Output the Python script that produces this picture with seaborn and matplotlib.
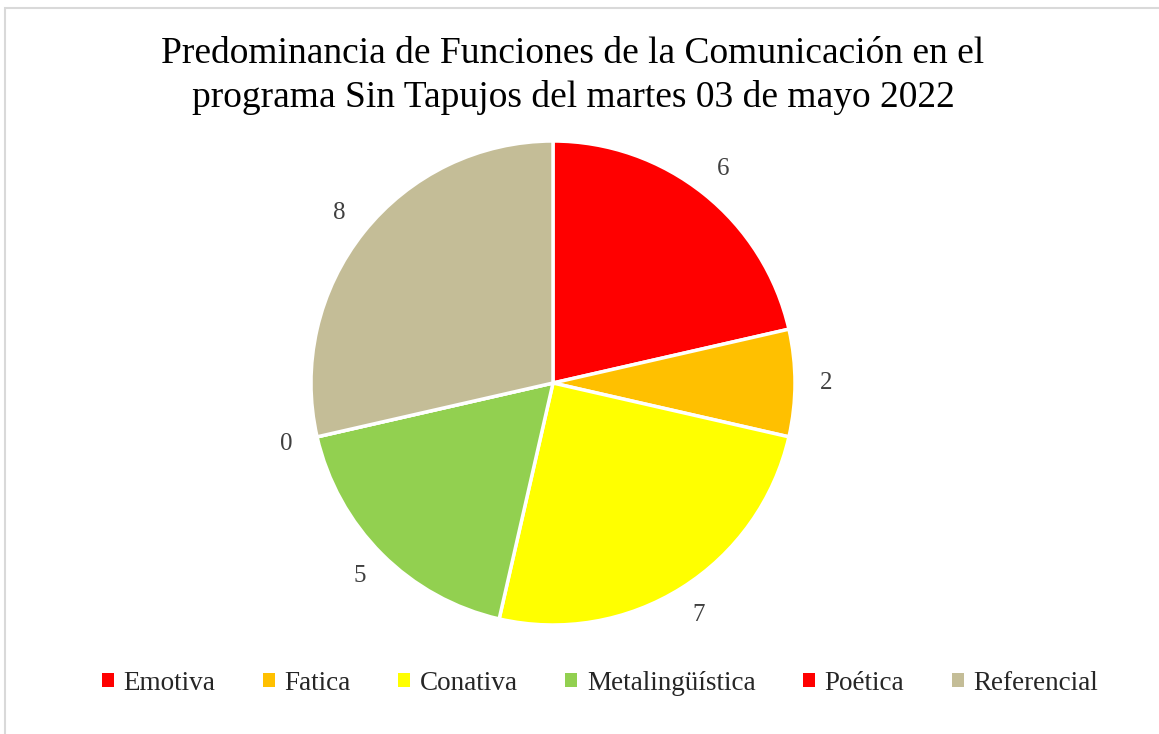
import matplotlib
matplotlib.use("Agg")
import matplotlib.pyplot as plt
import matplotlib.patches as mpatches
import seaborn as sns

# === Dati ===
funciones = ["Emotiva", "Fatica", "Conativa", "Metalingüística", "Poética", "Referencial"]
valores = [6, 2, 7, 5, 0, 8]
colores = ["#ff0000", "#ffc000", "#ffff00", "#92d050", "#ff0000", "#c4bd97"]
titulo = "Predominancia de Funciones de la Comunicación en el\nprograma Sin Tapujos del martes 03 de mayo 2022"

sns.set_theme(style="white")
plt.rcParams["font.family"] = ["Liberation Serif", "DejaVu Serif"]

W, H = 1159, 734
fig = plt.figure(figsize=(W / 100, H / 100), dpi=100)
fig.patch.set_facecolor("white")

# marco gris
fig.add_artist(mpatches.Rectangle((5 / W, -0.01), 1.02, 1 - 8 / H + 0.01,
                                  transform=fig.transFigure, fill=False,
                                  edgecolor="#d9d9d9", linewidth=1.5))

cx, cy, r = 553, 383, 242
ax = fig.add_axes([(cx - r) / W, 1 - (cy + r) / H, 2 * r / W, 2 * r / H])

wedges, texts = ax.pie(valores, colors=colores, startangle=90, counterclock=False,
                       labels=[str(v) for v in valores], labeldistance=1.13,
                       wedgeprops=dict(edgecolor="white", linewidth=2.5),
                       textprops=dict(fontsize=18, color="#404040"))
for t in texts:
    t.set_horizontalalignment("center")
    t.set_verticalalignment("center")
ax.set_xlim(-1, 1)
ax.set_ylim(-1, 1)
ax.set_aspect("equal")

fig.text(573 / W, 1 - 76 / H, titulo, ha="center", va="center",
         fontsize=27, linespacing=1.32, color="black")

handles = [mpatches.Patch(facecolor=c, edgecolor="none") for c in colores]
fig.legend(handles, funciones, loc="center", bbox_to_anchor=(600 / W, 1 - 683 / H),
           ncol=6, frameon=False, fontsize=19.5, handlelength=0.45, handleheight=0.45,
           handletextpad=0.35, columnspacing=1.75)

fig.savefig("out.png", dpi=100)
